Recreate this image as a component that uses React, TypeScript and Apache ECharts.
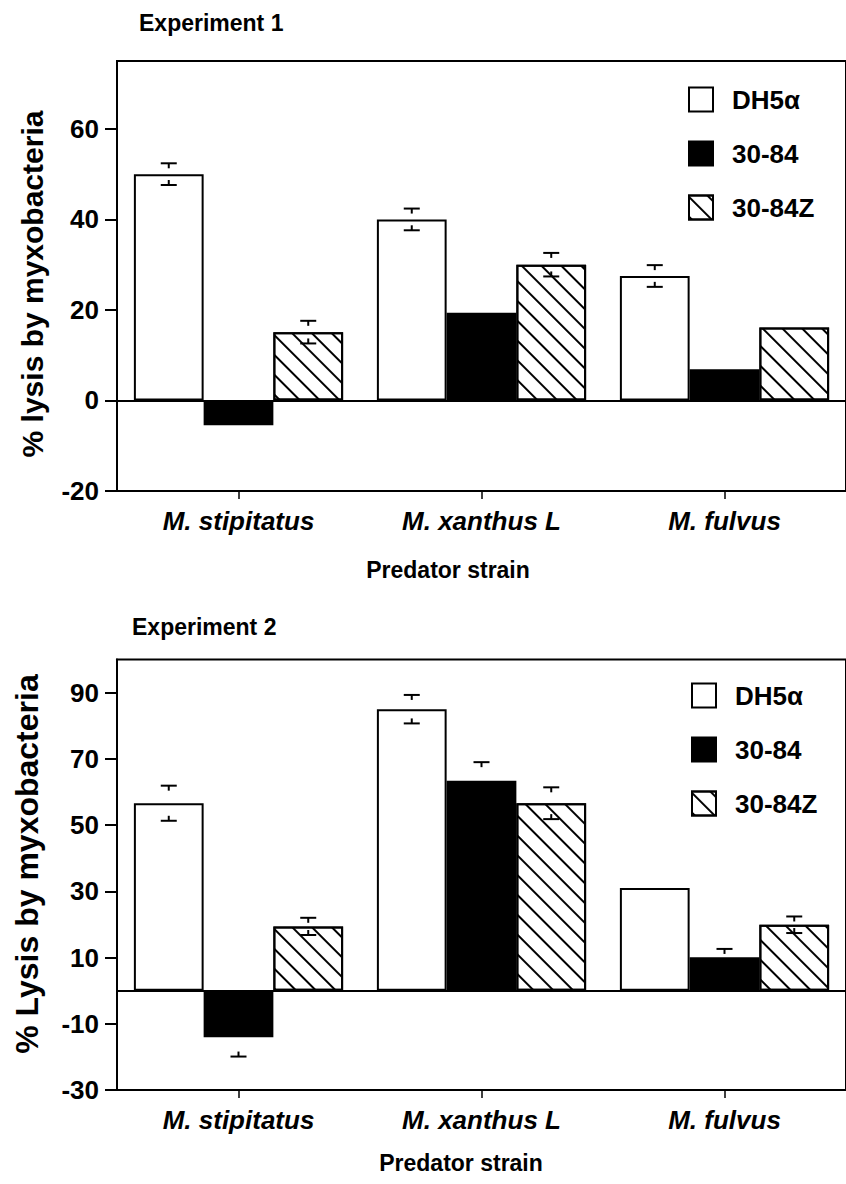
import React, { useEffect, useRef } from "react";
import * as echarts from "echarts";

const categories = ["M. stipitatus", "M. xanthus L", "M. fulvus"];
const seriesNames = ["DH5α", "30-84", "30-84Z"];

// Experiment 1
const exp1DH5a = [50, 40, 27.5];
const exp1S3084 = [-5.5, 19.4, 6.9];
const exp1S3084Z = [15.1, 30, 16.1];
const exp1ErrDH5a = [2.4, 2.4, 2.4];
const exp1Err3084 = [null, null, null];
const exp1Err3084Z = [2.5, 2.6, null];
const exp1Ticks = [-20, 0, 20, 40, 60];

// Experiment 2
const exp2DH5a = [56.6, 85, 31];
const exp2S3084 = [-14.1, 63.4, 10.1];
const exp2S3084Z = [19.4, 56.6, 19.9];
const exp2ErrDH5a = [5.3, 4.3, null];
const exp2Err3084 = [5.8, 5.6, 2.5];
const exp2Err3084Z = [2.6, 4.8, 2.5];
const exp2Ticks = [-30, -10, 10, 30, 50, 70, 90];

const FONT = "Liberation Sans";
const BAR_FRAC = 0.287;

const hatchDecal = {
  symbol: "rect",
  symbolSize: 1,
  dashArrayX: [10, 0],
  dashArrayY: [2, 12],
  rotation: Math.PI / 4,
  color: "#000",
  backgroundColor: "#fff",
};

const barStyles = [
  { color: "#fff", borderColor: "#000", borderWidth: 2 },
  { color: "#000", borderColor: "#000", borderWidth: 2 },
  { color: "#fff", borderColor: "#000", borderWidth: 2, decal: hatchDecal },
];

function errData(vals: number[][], errs: (number | null)[][]) {
  const out: number[][] = [];
  for (let k = 0; k < 3; k++) {
    for (let c = 0; c < categories.length; c++) {
      const e = errs[k][c];
      if (e != null) out.push([c, vals[k][c], e, k]);
    }
  }
  return out;
}

function renderErr(params: any, api: any) {
  const cat = api.value(0);
  const v = api.value(1);
  const e = api.value(2);
  const k = api.value(3);
  const band = api.size([1, 0])[0];
  const bw = band * BAR_FRAC;
  const c = api.coord([cat, v]);
  const x = c[0] + (k - 1) * bw;
  const yt = api.coord([cat, v + e])[1];
  const yb = api.coord([cat, v - e])[1];
  const half = 8;
  const stub = 5;
  const st = { stroke: "#000", lineWidth: 2 };
  return {
    type: "group",
    children: [
      { type: "line", shape: { x1: x - half, y1: yt, x2: x + half, y2: yt }, style: st },
      { type: "line", shape: { x1: x, y1: yt, x2: x, y2: yt + stub }, style: st },
      { type: "line", shape: { x1: x - half, y1: yb, x2: x + half, y2: yb }, style: st },
      { type: "line", shape: { x1: x, y1: yb, x2: x, y2: yb - stub }, style: st },
    ],
  };
}

function makeAxes(min: number, max: number, ticks: number[]) {
  return {
    type: "value",
    min,
    max,
    axisLine: { show: true, lineStyle: { color: "#000", width: 2 } },
    axisTick: { show: true, length: 12, customValues: ticks, lineStyle: { color: "#000", width: 2 } },
    axisLabel: {
      customValues: ticks,
      margin: 18,
      color: "#000",
      fontSize: 26,
      fontWeight: "bold",
      fontFamily: FONT,
    },
    splitLine: { show: false },
  };
}

function makeX(gridIndex: number) {
  return {
    type: "category",
    gridIndex,
    data: categories,
    axisLine: { show: true, onZero: false, lineStyle: { color: "#000", width: 2 } },
    axisTick: { show: true, alignWithLabel: true, length: 8, lineStyle: { color: "#000", width: 1.5 } },
    axisLabel: {
      margin: 17,
      color: "#000",
      fontSize: 26,
      fontWeight: "bold",
      fontStyle: "italic",
      fontFamily: FONT,
    },
    splitLine: { show: false },
  };
}

function barSeries(gi: number, data: number[][]) {
  return data.map((d, k) => ({
    type: "bar",
    name: seriesNames[k],
    xAxisIndex: gi,
    yAxisIndex: gi,
    data: d,
    barWidth: "28.7%",
    barGap: "0%",
    itemStyle: barStyles[k],
    markLine:
      k === 0
        ? {
            silent: true,
            symbol: "none",
            label: { show: false },
            lineStyle: { color: "#000", width: 2, type: "solid" },
            data: [{ yAxis: 0 }],
          }
        : undefined,
  }));
}

function legend(left: number, top: number) {
  return {
    data: seriesNames,
    orient: "vertical",
    left,
    top,
    itemWidth: 24,
    itemHeight: 24,
    itemGap: 28,
    icon: "rect",
    selectedMode: false,
    textStyle: {
      fontSize: 26,
      fontWeight: "bold",
      fontFamily: FONT,
      color: "#000",
      padding: [0, 0, 0, 14],
    },
  };
}

function txt(text: string, x: number, y: number, size: number, rot = 0, align = "center") {
  return {
    type: "text",
    x,
    y,
    rotation: rot,
    style: {
      text,
      font: `bold ${size}px "${FONT}"`,
      fill: "#000",
      align,
      verticalAlign: "middle",
      textAlign: align,
      textVerticalAlign: "middle",
    },
  };
}

export default function App() {
  const ref = useRef<HTMLDivElement>(null);
  useEffect(() => {
    if (!ref.current) return;
    const chart = echarts.init(ref.current, undefined, { renderer: "svg" });
    const exp1Vals = [exp1DH5a, exp1S3084, exp1S3084Z];
    const exp2Vals = [exp2DH5a, exp2S3084, exp2S3084Z];
    const option: any = {
      animation: false,
      backgroundColor: "#fff",
      grid: [
        { left: 117, top: 61, width: 736.5, height: 430, show: true, borderColor: "#000", borderWidth: 2, backgroundColor: "transparent" },
        { left: 117, top: 659.5, width: 736.5, height: 430.5, show: true, borderColor: "#000", borderWidth: 2, backgroundColor: "transparent" },
      ],
      xAxis: [makeX(0), makeX(1)],
      yAxis: [
        { ...makeAxes(-20, 75, exp1Ticks), gridIndex: 0 },
        { ...makeAxes(-30, 100, exp2Ticks), gridIndex: 1 },
      ],
      legend: [legend(683, 81.5), legend(686, 677.5)],
      series: [
        ...barSeries(0, exp1Vals),
        ...barSeries(1, exp2Vals),
        {
          type: "custom",
          xAxisIndex: 0,
          yAxisIndex: 0,
          renderItem: renderErr,
          data: errData(exp1Vals, [exp1ErrDH5a, exp1Err3084, exp1Err3084Z]),
          z: 10,
          clip: false,
          silent: true,
        },
        {
          type: "custom",
          xAxisIndex: 1,
          yAxisIndex: 1,
          renderItem: renderErr,
          data: errData(exp2Vals, [exp2ErrDH5a, exp2Err3084, exp2Err3084Z]),
          z: 10,
          clip: false,
          silent: true,
        },
      ],
      graphic: [
        txt("Experiment 1", 139, 23, 23, 0, "left"),
        txt("Experiment 2", 132, 627, 23, 0, "left"),
        txt("% lysis by myxobacteria", 32, 284, 30, Math.PI / 2),
        txt("% Lysis by myxobacteria", 27, 864, 32, Math.PI / 2),
        txt("Predator strain", 448, 570, 23),
        txt("Predator strain", 461, 1163, 23),
      ],
    };
    chart.setOption(option);
    return () => chart.dispose();
  }, []);
  return (
    <div
      ref={ref}
      style={{ position: "absolute", left: 0, top: 0, width: 846, height: 1184 }}
    />
  );
}
